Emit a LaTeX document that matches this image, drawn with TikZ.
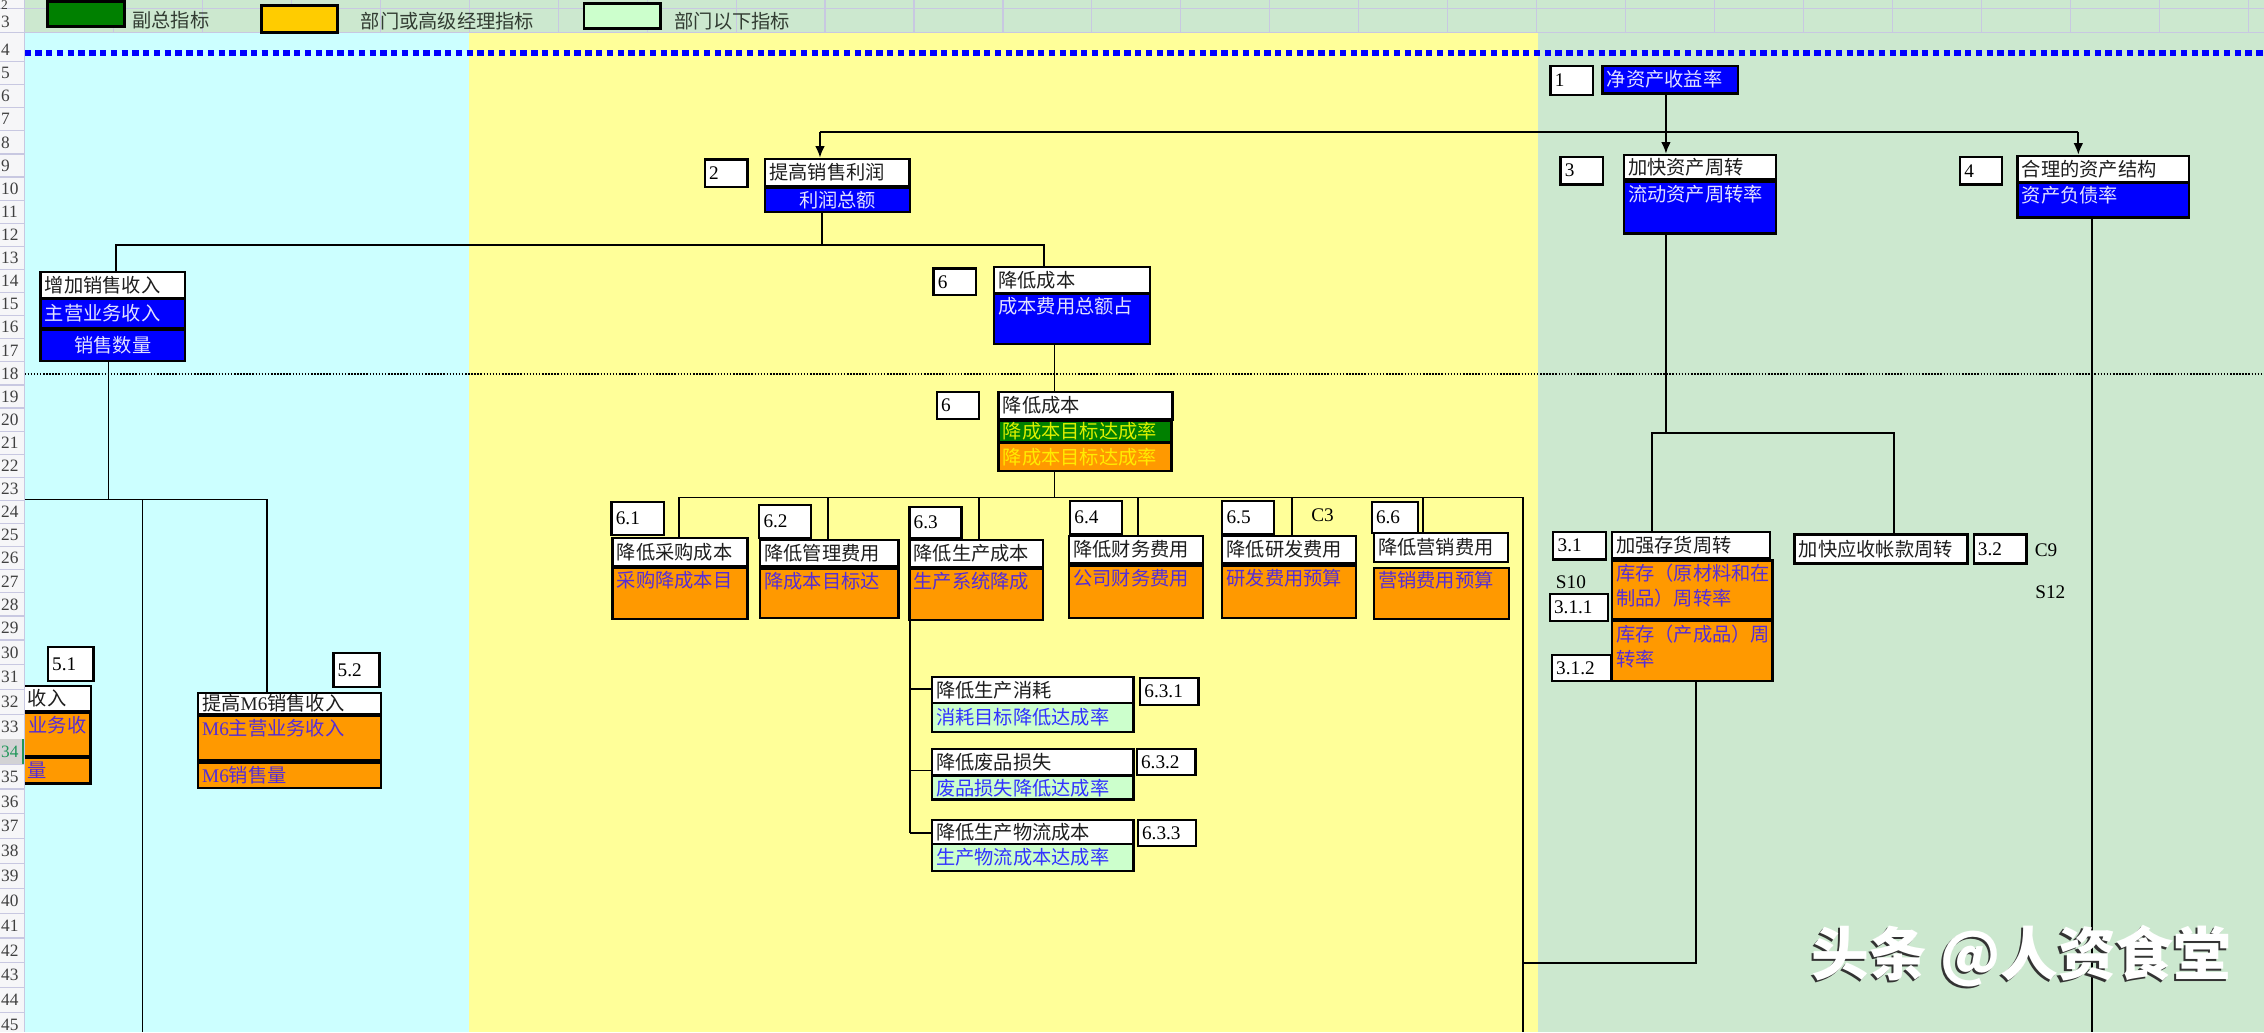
\documentclass[tikz,border=0pt]{standalone}
\usepackage{fontspec}
\setmainfont{Liberation Serif}
\newfontfamily\cjk{Noto Sans CJK SC}
\usetikzlibrary{arrows.meta}

\definecolor{bandgreen}{RGB}{204,232,207}
\definecolor{sheetcyan}{RGB}{204,255,255}
\definecolor{sheetyellow}{RGB}{255,255,153}
\definecolor{boxblue}{RGB}{0,0,255}
\definecolor{boxorange}{RGB}{255,153,0}
\definecolor{boxgold}{RGB}{255,204,0}
\definecolor{boxgreen}{RGB}{0,128,0}
\definecolor{boxlgreen}{RGB}{204,255,204}
\definecolor{gridc}{RGB}{200,200,225}
\definecolor{txtdark}{RGB}{30,30,30}
\definecolor{txtlight}{RGB}{225,225,255}
\definecolor{txtviolet}{RGB}{85,45,215}
\definecolor{txtblue}{RGB}{50,50,255}
\definecolor{txtlime}{RGB}{220,240,0}
\definecolor{txtyellow}{RGB}{255,235,0}
\definecolor{hdrgray}{RGB}{246,246,248}
\definecolor{hdrsel}{RGB}{210,210,212}
\definecolor{hdrgreen}{RGB}{33,150,90}
\definecolor{legendtxt}{RGB}{50,60,50}

\newdimen\pxu \pxu=0.75pt
% cell text: width, height, vertical position, text
\newcommand{\boxtxt}[4]{\parbox[c][#2\pxu][#3]{#1\pxu}{\leftskip=3\pxu\relax#4}}
\newcommand{\boxtop}[3]{\parbox[c][#2\pxu][t]{#1\pxu}{\leftskip=3\pxu\relax\vspace*{2.5\pxu}#3}}

\tikzset{
  cell/.style={draw=black, line width=1.2pt, inner sep=0pt, anchor=north west,
    font=\cjk\fontsize{10}{13}\selectfont},
  legendbox/.style={draw=black, line width=1.5pt, inner sep=0pt, anchor=north west},
  numbox/.style={cell, fill=white, text=black, font=\rmfamily\fontsize{10}{12}\selectfont},
  whitebox/.style={cell, fill=white, text=txtdark},
  bluebox/.style={cell, fill=boxblue, text=txtlight},
  orangebox/.style={cell, fill=boxorange, text=txtviolet},
  goldbox/.style={cell, fill=boxorange, text=txtyellow},
  greenbox/.style={cell, fill=boxgreen, text=txtlime},
  lgreenbox/.style={cell, fill=boxlgreen, text=txtblue},
  legendtext/.style={anchor=west, inner sep=0pt, text=legendtxt, font=\cjk\fontsize{10}{12}\selectfont},
  freetext/.style={inner sep=0pt, font=\rmfamily\fontsize{10}{12}\selectfont},
  rowlbl/.style={anchor=west, inner sep=0pt, text=black!75, font=\rmfamily\fontsize{9}{10}\selectfont},
  conn/.style={line width=0.9pt},
  arr/.style={conn, -{Latex[length=6pt,width=5pt]}},
  wmark/.style={inner sep=0pt, font=\cjk\bfseries\fontsize{30}{30}\selectfont}
}

\begin{document}
\begin{tikzpicture}[x=0.75pt,y=-0.75pt]
\useasboundingbox (0,0) rectangle (1568,715);

% sheet background
\fill[bandgreen] (0,0) rectangle (1568,22.6);
\fill[sheetcyan] (17,22.6) rectangle (325,715);
\fill[sheetyellow] (325,22.6) rectangle (1065,715);
\fill[bandgreen] (1065,22.6) rectangle (1568,715);
\foreach \k in {1,...,25}
  \draw[gridc, line width=0.6pt] ({17+61.6*\k},0) -- ({17+61.6*\k},22.6);
\draw[gridc, line width=0.6pt] (17,5.8) -- (1568,5.8);
\draw[gridc, line width=0.6pt] (17,22.6) -- (1568,22.6);

% dotted separators
\draw[boxblue, line width=3pt, dash pattern=on 3.3pt off 2.3pt] (17,36.9) -- (1568,36.9);
\draw[black, line width=0.8pt, dash pattern=on 0.8pt off 0.8pt] (17,259) -- (1568,259);

% legend
\node[legendbox, fill=boxgreen, minimum width=53\pxu, minimum height=17.5\pxu] (lgVp) at (32,0) {};
\node[legendtext] (lgVpText) at (91.4,14.3) {副总指标};
\node[legendbox, fill=boxgold, minimum width=52.6\pxu, minimum height=18.2\pxu] (lgDept) at (180,3) {};
\node[legendtext] (lgDeptText) at (249.7,15) {部门或高级经理指标};
\node[legendbox, fill=boxlgreen, minimum width=52.9\pxu, minimum height=17.7\pxu] (lgSub) at (403.5,1.2) {};
\node[legendtext] (lgSubText) at (467,15) {部门以下指标};

% level 1
\node[numbox] (n1num) at (1073,44.8) {\boxtxt{29.5}{20.3}{c}{1}};
\node[bluebox] (n1) at (1109,44.8) {\boxtxt{94}{19.1}{c}{净资产收益率}};

% level 2
\node[numbox] (n2num) at (487.3,109.6) {\boxtxt{29.6}{19.2}{c}{2}};
\node[whitebox] (n2t) at (529,109.2) {\boxtxt{100}{19}{c}{提高销售利润}};
\node[bluebox] (n2b) at (529,129.3) {\boxtxt{100.5}{16.8}{c}{\centering 利润总额}};
\node[numbox] (n3num) at (1080,107.8) {\boxtxt{29.6}{19.2}{c}{3}};
\node[whitebox] (n3t) at (1123.8,106.4) {\boxtxt{105.6}{17.1}{c}{加快资产周转}};
\node[bluebox] (n3b) at (1123.8,125.1) {\boxtop{105.6}{35.8}{流动资产周转率}};
\node[numbox] (n4num) at (1356.7,107.8) {\boxtxt{29.1}{19.2}{c}{4}};
\node[whitebox] (n4t) at (1396.5,107.1) {\boxtxt{118.8}{18}{c}{合理的资产结构}};
\node[bluebox] (n4b) at (1396.5,125.8) {\boxtop{118.8}{24}{资产负债率}};

% sales
\node[whitebox] (n5t) at (27.2,187.4) {\boxtxt{100.2}{18.1}{c}{增加销售收入}};
\node[bluebox] (n5b) at (27.2,206.2) {\boxtxt{100.2}{20.5}{c}{主营业务收入}};
\node[bluebox] (n5c) at (27.2,227.4) {\boxtxt{100.2}{21.9}{c}{\centering 销售数量}};

% cost
\node[numbox] (n6anum) at (645.8,185.1) {\boxtxt{29.4}{18.5}{c}{6}};
\node[whitebox] (n6at) at (687.6,184) {\boxtxt{108.1}{18}{c}{降低成本}};
\node[bluebox] (n6ab) at (687.6,202.4) {\boxtop{108.1}{34.9}{成本费用总额占}};
\node[numbox] (n6bnum) at (648,270.5) {\boxtxt{29.3}{18.7}{c}{6}};
\node[whitebox] (n6bt) at (690.7,270.5) {\boxtxt{120.5}{19.2}{c}{降低成本}};
\node[greenbox] (n6bg) at (690.7,290.4) {\boxtxt{119.9}{15}{c}{降成本目标达成率}};
\node[goldbox] (n6bo) at (690.7,306.1) {\boxtxt{119.9}{19.4}{c}{降成本目标达成率}};

% cost items
\node[numbox] (n61num) at (422.7,346.7) {\boxtxt{36.6}{23.1}{c}{6.1}};
\node[whitebox] (n61t) at (423.5,371.7) {\boxtxt{93.5}{19.6}{c}{降低采购成本}};
\node[orangebox] (n61b) at (423.5,392.4) {\boxtop{93.5}{35.4}{采购降成本目}};
\node[numbox] (n62num) at (525,349) {\boxtxt{35.7}{22.7}{c}{6.2}};
\node[whitebox] (n62t) at (525.6,373.3) {\boxtxt{95.9}{18}{c}{降低管理费用}};
\node[orangebox] (n62b) at (525.6,392.9) {\boxtop{95.9}{34.1}{降成本目标达}};
\node[numbox] (n63num) at (629,350.2) {\boxtxt{36.2}{21.9}{c}{6.3}};
\node[whitebox] (n63t) at (629,373.3) {\boxtxt{92.6}{18.7}{c}{降低生产成本}};
\node[orangebox] (n63b) at (629,392.9) {\boxtop{92.6}{35.8}{生产系统降成}};
\node[numbox] (n64num) at (740.3,346.3) {\boxtxt{35.9}{22.6}{c}{6.4}};
\node[whitebox] (n64t) at (739.6,370.5) {\boxtxt{92.6}{18.5}{c}{降低财务费用}};
\node[orangebox] (n64b) at (739.6,390.8) {\boxtop{92.6}{36.2}{公司财务费用}};
\node[numbox] (n65num) at (845.7,346.3) {\boxtxt{35.8}{22.6}{c}{6.5}};
\node[whitebox] (n65t) at (845.7,370.5) {\boxtxt{92.7}{18.5}{c}{降低研发费用}};
\node[orangebox] (n65b) at (845.7,390.8) {\boxtop{92.7}{36.2}{研发费用预算}};
\node[freetext] (c3) at (916,357) {C3};
\node[numbox] (n66num) at (949.2,347) {\boxtxt{32.3}{21.2}{c}{6.6}};
\node[whitebox] (n66t) at (950.6,368.2) {\boxtxt{93.2}{20.1}{c}{降低营销费用}};
\node[orangebox] (n66b) at (950.6,392.4) {\boxtop{93.9}{35.4}{营销费用预算}};

% production sub-items
\node[whitebox] (n631t) at (644.5,468) {\boxtxt{139.7}{18}{c}{降低生产消耗}};
\node[lgreenbox] (n631b) at (644.5,486) {\boxtxt{139.7}{20.2}{c}{消耗目标降低达成率}};
\node[numbox] (n631num) at (788.8,468.6) {\boxtxt{40.4}{18.9}{c}{6.3.1}};
\node[whitebox] (n632t) at (644.5,517.8) {\boxtxt{139.7}{18.2}{c}{降低废品损失}};
\node[lgreenbox] (n632b) at (644.5,536.7) {\boxtxt{139.7}{16.2}{c}{废品损失降低达成率}};
\node[numbox] (n632num) at (786.5,517.8) {\boxtxt{40.6}{18.2}{c}{6.3.2}};
\node[whitebox] (n633t) at (644.5,567.2) {\boxtxt{139.7}{16.4}{c}{降低生产物流成本}};
\node[lgreenbox] (n633b) at (644.5,583.6) {\boxtxt{139.7}{18.9}{c}{生产物流成本达成率}};
\node[numbox] (n633num) at (787.2,567.2) {\boxtxt{40.4}{17.8}{c}{6.3.3}};

% inventory
\node[numbox] (n31num) at (1075,367.5) {\boxtxt{36.7}{19.1}{c}{3.1}};
\node[whitebox] (n31t) at (1115.4,367.5) {\boxtxt{109.6}{18.5}{c}{加强存货周转}};
\node[orangebox] (n311b) at (1115.4,387.3) {\boxtop{111.3}{40.9}{库存（原材料和在\\制品）周转率}};
\node[freetext] (s10) at (1088,403) {S10};
\node[numbox] (n311num) at (1072.5,410.4) {\boxtxt{40.5}{19}{c}{3.1.1}};
\node[orangebox] (n312b) at (1115.4,429.4) {\boxtop{111.3}{41.5}{库存（产成品）周\\转率}};
\node[numbox] (n312num) at (1074,452.9) {\boxtxt{40.7}{18}{c}{3.1.2}};
\node[whitebox] (n32t) at (1242,369.3) {\boxtxt{119.8}{20.1}{c}{加快应收帐款周转}};
\node[numbox] (n32num) at (1366.1,369.3) {\boxtxt{36.5}{20.1}{c}{3.2}};
\node[freetext] (c9) at (1417,381) {C9};
\node[freetext] (s12) at (1420,410) {S12};

% M5 / M6
\node[numbox] (n51num) at (32.3,447.2) {\boxtxt{31.6}{23.7}{c}{5.1}};
\node[whitebox] (n51t) at (10,474.4) {\boxtxt{52.3}{17.3}{c}{\hspace*{5.5\pxu}收入}};
\node[orangebox] (n51b) at (10,492.9) {\boxtop{51.9}{30}{\hspace*{6\pxu}业务收}};
\node[orangebox] (n51c) at (10,524) {\boxtxt{51.9}{17.8}{c}{\hspace*{5.5\pxu}量}};
\node[numbox] (n52num) at (230.1,451.3) {\boxtxt{31.9}{23.8}{c}{5.2}};
\node[whitebox] (n52t) at (136.2,479) {\boxtxt{127}{15}{c}{提高\textrm{M6}销售收入}};
\node[orangebox] (n52b) at (136.2,495.2) {\boxtop{127}{30.7}{\textrm{M6}主营业务收入}};
\node[orangebox] (n52c) at (136.2,527.5) {\boxtxt{127}{17.3}{c}{\textrm{M6}销售量}};

% connectors: level 1 to level 2
\coordinate (j1) at (1153.8,91.2);
\coordinate (a2) at (567.9,91.2);
\coordinate (a4) at (1439.4,91.2);
\draw[conn] (a2) -- (a4);
\draw[arr] (n1.south -| j1) -- (j1 |- n3t.north);
\draw[arr] (a2) -- (a2 |- n2t.north);
\draw[arr] (a4) -- (a4 |- n4t.north);

% profit branches
\coordinate (p0) at (569.2,169.7);
\coordinate (p5) at (80.4,169.7);
\coordinate (p6) at (723.1,169.7);
\draw[conn] (n2b.south -| p0) -- (p0);
\draw[conn] (n5t.north -| p5) -- (p5) -- (p6) -- (n6at.north -| p6);

% cost bus
\coordinate (q0) at (730.3,344.5);
\coordinate (q1) at (470.4,344.5);
\coordinate (q9) at (1055,344.5);
\coordinate (qend) at (1055,715);
\draw[conn] (n6ab.south -| q0) -- (n6bt.north -| q0);
\draw[conn] (n6bo.south -| q0) -- (q0);
\draw[conn] (n61t.north -| q1) -- (q1) -- (q9) -- (qend);
\foreach \xx/\nn in {573.4/n62t, 678/n63t, 788.4/n64t, 894.6/n65t, 985.7/n66t} {
  \coordinate (drop) at (\xx,344.5);
  \draw[conn] (drop) -- (drop |- \nn.north);
}

% production spine
\coordinate (s1) at (630.2,477.4);
\coordinate (s2) at (630.2,533.7);
\coordinate (s3) at (630.2,577.1);
\draw[conn] (n63b.south -| s1) -- (s3);
\draw[conn] (s1) -- (s1 -| n631t.west);
\draw[conn] (s2) -- (s2 -| n632t.west);
\draw[conn] (s3) -- (s3 -| n633t.west);

% assets
\coordinate (v3) at (1153.8,300);
\coordinate (v31) at (1144,300);
\coordinate (v32) at (1311.5,300);
\draw[conn] (n3b.south -| v3) -- (v3);
\draw[conn] (n31t.north -| v31) -- (v31) -- (v32) -- (n32t.north -| v32);
\coordinate (c1) at (1174.8,667.1);
\coordinate (c0) at (1055,667.1);
\draw[conn] (n312b.south -| c1) -- (c1) -- (c0);
\coordinate (e4) at (1449,715);
\draw[conn] (n4b.south -| e4) -- (e4);

% sales branches
\coordinate (m0) at (75.1,346);
\coordinate (mL) at (0,346);
\coordinate (m1) at (98.6,346);
\coordinate (m2) at (184.7,346);
\coordinate (m1e) at (98.6,715);
\draw[conn] (n5c.south -| m0) -- (m0);
\draw[conn] (mL) -- (m2) -- (n52t.north -| m2);
\draw[conn] (m1) -- (m1e);

% watermark
\node[wmark, text=black!80] (wmshadow) at (1398.5,663.5) {头条 @人资食堂};
\node[wmark, text=white] (wm) at (1400,662) {头条 @人资食堂};

% row header
\fill[hdrgray] (0,0) rectangle (17,715);
\draw[gridc, line width=0.6pt] (0,5.8) -- (17,5.8);
\draw[gridc, line width=0.6pt] (0,22.6) -- (17,22.6);
\foreach \r in {4,...,28}
  \draw[gridc, line width=0.6pt] (0,{34.6+(\r-4)*16+8}) -- (17,{34.6+(\r-4)*16+8});
\foreach \r in {29,...,44}
  \draw[gridc, line width=0.6pt] (0,{434.6+(\r-29)*17.2+8.6}) -- (17,{434.6+(\r-29)*17.2+8.6});
\fill[hdrsel] (0,512) rectangle (17,529.2);
\fill[hdrgreen] (15.5,512) rectangle (17.5,529.2);
\draw[gridc, line width=0.6pt] (17,0) -- (17,715);
\node[rowlbl, font=\rmfamily\fontsize{7}{8}\selectfont] (row2) at (0.5,3.6) {2};
\node[rowlbl] (row3) at (0.5,15) {3};
\foreach \r in {4,...,29}
  \node[rowlbl] (row\r) at (0.5,{34.6+(\r-4)*16}) {\r};
\foreach \r in {30,...,33}
  \node[rowlbl] (row\r) at (0.5,{434.6+(\r-29)*17.2}) {\r};
\node[rowlbl, text=hdrgreen] (row34) at (0.5,520.6) {34};
\foreach \r in {35,...,45}
  \node[rowlbl] (row\r) at (0.5,{434.6+(\r-29)*17.2}) {\r};
\end{tikzpicture}
\end{document}
